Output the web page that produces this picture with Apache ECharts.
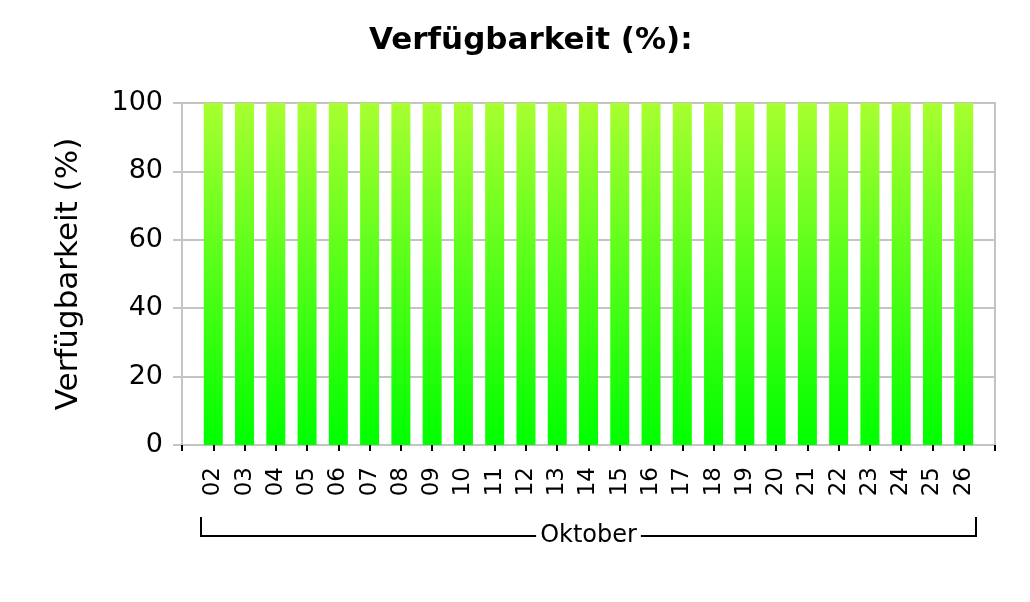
<!DOCTYPE html>
<html><head><meta charset="utf-8">
<script src="https://cdn.jsdelivr.net/npm/echarts@6/dist/echarts.min.js"></script>
<style>html,body{margin:0;padding:0;background:#fff}#c{width:1030px;height:602px}</style>
</head><body><div id="c"></div>
<script>
var days = [2,3,4,5,6,7,8,9,10,11,12,13,14,15,16,17,18,19,20,21,22,23,24,25,26];
var availability = [100,100,100,100,100,100,100,100,100,100,100,100,100,100,100,100,100,100,100,100,100,100,100,100,100];
var yTicks = [0,20,40,60,80,100];
var monthLabel = 'Oktober';
var titleText = 'Verfügbarkeit (%):';
var yName = 'Verfügbarkeit (%)';

var font = 'DejaVu Sans';
var chart = echarts.init(document.getElementById('c'), null, {renderer:'canvas'});
var data = days.map(function(d,i){return [d, availability[i]];});
chart.setOption({
  animation:false,
  title:{text:titleText,left:364,top:20,textStyle:{fontFamily:font,fontWeight:'bold',fontSize:31,color:'#000'}},
  grid:{left:182,right:35,top:103,bottom:157,show:true,borderColor:'#c4c4c4',borderWidth:2,backgroundColor:'transparent'},
  xAxis:{type:'value',min:1,max:27,interval:1,
    axisLine:{show:true,lineStyle:{color:'#c4c4c4',width:2}},
    axisTick:{show:true,length:6,lineStyle:{color:'#000',width:2}},
    splitLine:{show:false},
    axisLabel:{rotate:90,margin:22,fontFamily:font,fontSize:23,color:'#000',
      formatter:function(v){ if(days.indexOf(v)<0) return ''; return (v<10?'0':'')+v; }}
  },
  yAxis:{type:'value',min:yTicks[0],max:yTicks[yTicks.length-1],interval:20,
    name:yName,nameLocation:'middle',nameGap:98,nameRotate:90,
    nameTextStyle:{fontFamily:font,fontSize:31,color:'#000'},
    axisLine:{show:true,lineStyle:{color:'#c4c4c4',width:2}},
    axisTick:{show:true,length:9,lineStyle:{color:'#c4c4c4',width:2}},
    splitLine:{show:true,lineStyle:{color:'#c4c4c4',width:2}},
    axisLabel:{margin:19,fontFamily:font,fontSize:27,color:'#000'}
  },
  series:[{type:'bar',data:data,barWidth:19,
    itemStyle:{color:new echarts.graphic.LinearGradient(0,0,0,1,[{offset:0,color:'#a8ff30'},{offset:1,color:'#00ff00'}])}
  }]
});
var p1 = chart.convertToPixel({gridIndex:0},[days[0]-0.4,0]);
var p2 = chart.convertToPixel({gridIndex:0},[days[days.length-1]+0.4,0]);
var x1 = Math.round(p1[0]), x2 = Math.round(p2[0]), yb = p1[1]+91, yt = p1[1]+72;
var mid = (x1+x2)/2;
chart.setOption({graphic:[
  {type:'polyline',shape:{points:[[x1,yt],[x1,yb],[x2,yb],[x2,yt]]},style:{stroke:'#000',lineWidth:2,fill:null}},
  {type:'text',x:mid,y:yb,style:{text:monthLabel,fontFamily:font,fontSize:24,fill:'#000',align:'center',verticalAlign:'middle',backgroundColor:'#fff',padding:[0,4]}}
]});
</script></body></html>
